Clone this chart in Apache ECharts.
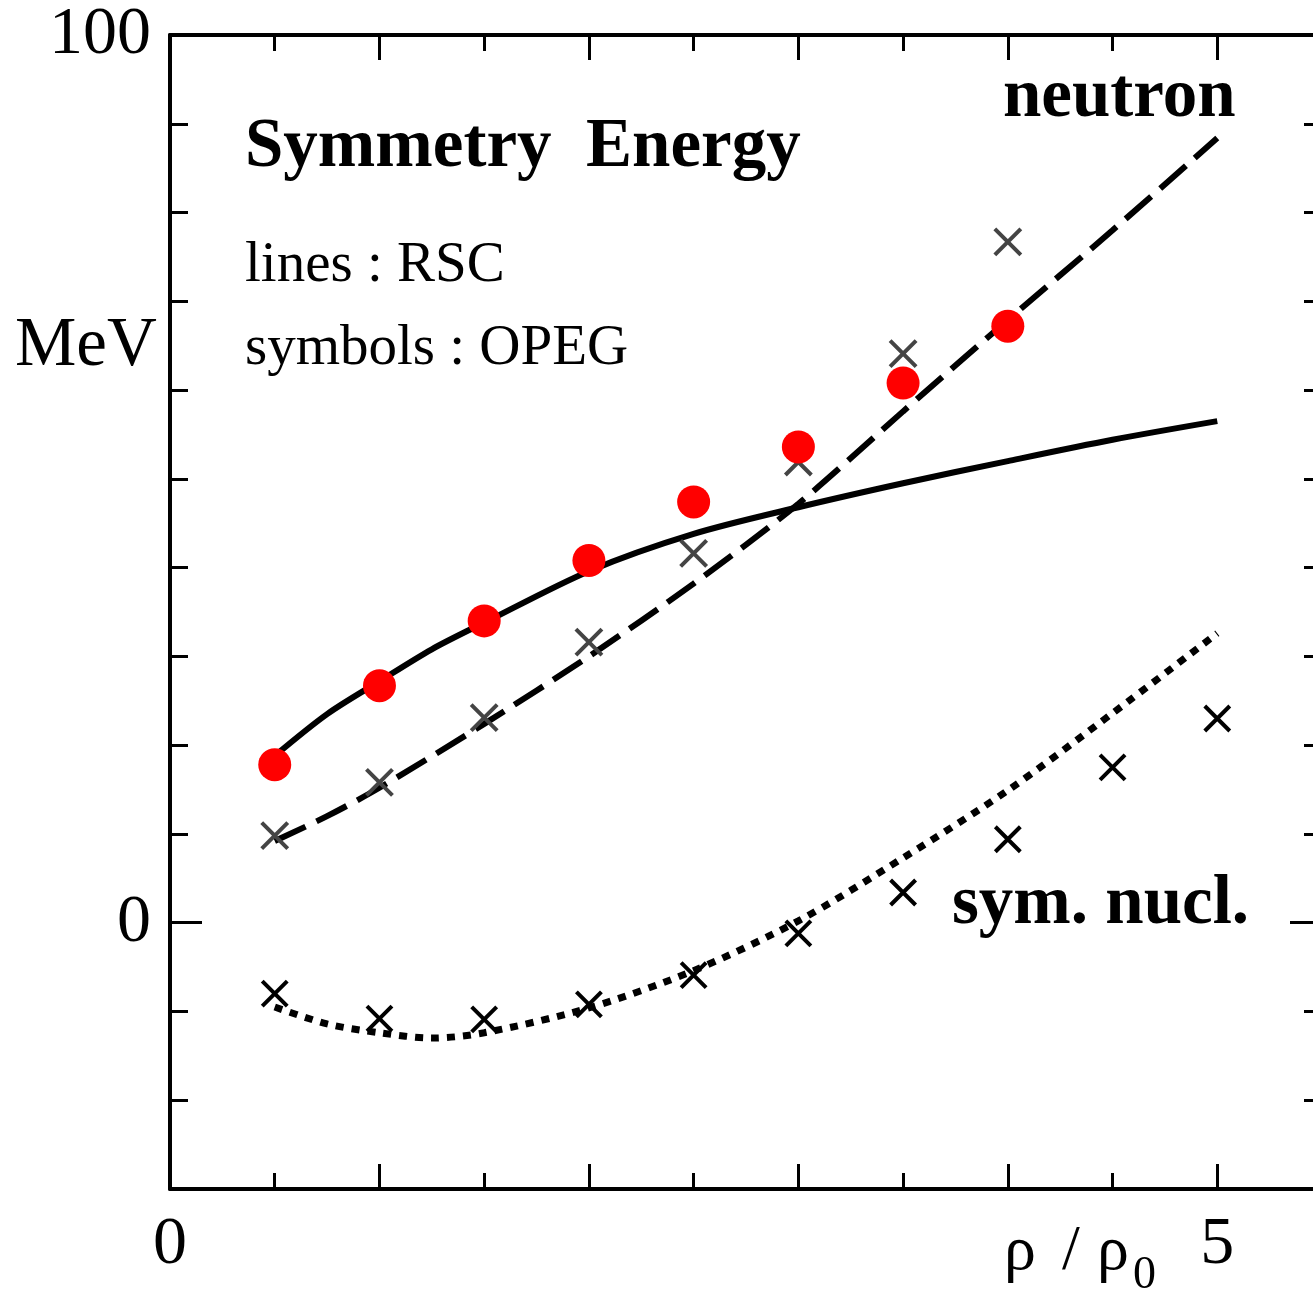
<!DOCTYPE html>
<html>
<head>
<meta charset="utf-8">
<title>Symmetry Energy</title>
<script src="https://cdn.jsdelivr.net/npm/echarts@6/dist/echarts.min.js"></script>
<style>
  body { margin: 0; background: #fff; }
  #main { width: 1313px; height: 1292px; }
</style>
</head>
<body>
<div id="main"></div>
<script>
// densities rho/rho0
var rhoPts = [0.5, 1.0, 1.5, 2.0, 2.5, 3.0, 3.5, 4.0];
var rhoNucl = [0.5, 1.0, 1.5, 2.0, 2.5, 3.0, 3.5, 4.0, 4.5, 5.0];

// OPEG symbols
var neutronOPEG = [17.8, 26.7, 34.0, 40.8, 47.4, 53.6, 60.8, 67.2];   // red dots
var symEnergyOPEG = [9.8, 15.8, 23.1, 31.6, 41.6, 51.9, 64.1, 76.7];  // grey crosses
var nuclOPEG = [-8.0, -10.8, -10.9, -9.2, -5.9, -1.2, 3.4, 9.4, 17.5, 23.0]; // black crosses

// RSC lines
var neutronRhoRSC = [0.5, 0.75, 1.0, 1.25, 1.5, 2.0, 2.5, 3.0, 3.5, 4.0, 4.5, 5.0];
var neutronRSC = [18.8, 23.5, 27.2, 30.8, 33.8, 39.6, 43.8, 46.8, 49.5, 52.0, 54.4, 56.5];
var symRhoRSC = [0.5, 0.75, 1.0, 1.5, 2.0, 2.5, 3.0, 3.5, 4.0, 4.5, 5.0];
var symEnergyRSC = [9.2, 12.0, 15.2, 22.4, 30.0, 38.2, 47.2, 57.6, 67.9, 78.0, 88.4];
var nuclRhoRSC = [0.5, 0.75, 1.0, 1.25, 1.5, 2.0, 2.5, 3.0, 3.5, 4.0, 4.5, 5.0];
var nuclRSC = [-9.5, -11.4, -12.4, -13.0, -12.4, -9.6, -5.4, 0.2, 7.3, 14.9, 23.6, 32.6];

var xLabels = [0, 5];
var yLabels = [0, 100];

function pairs(xs, ys) {
  var out = [];
  for (var i = 0; i < xs.length; i++) out.push([xs[i], ys[i]]);
  return out;
}

var serif = '"Liberation Serif", "Times New Roman", serif';
var crossPath = 'path://M0,0L10,10M10,0L0,10';

var myChart = echarts.init(document.getElementById('main'));

function xAx(pos, len, custom, showLine, showLabel) {
  return {
    type: 'value', position: pos, min: 0, max: 5.5, interval: 0.5,
    axisLine: { show: showLine, onZero: false, lineStyle: { color: '#000', width: 4 } },
    axisTick: { show: true, inside: true, length: len, customValues: custom, lineStyle: { color: '#000', width: 3 } },
    axisLabel: {
      show: showLabel, margin: 22, color: '#000', fontSize: 68, fontFamily: serif,
      formatter: function (v) { return xLabels.indexOf(v) >= 0 ? String(v) : ''; }
    },
    splitLine: { show: false }
  };
}
function yAx(pos, len, custom, showLine, showLabel) {
  return {
    type: 'value', position: pos, min: -30, max: 100, interval: 10,
    axisLine: { show: showLine, onZero: false, lineStyle: { color: '#000', width: 4 } },
    axisTick: { show: true, inside: true, length: len, customValues: custom, lineStyle: { color: '#000', width: 3 } },
    axisLabel: {
      show: showLabel, margin: 19, color: '#000', fontSize: 68, fontFamily: serif,
      formatter: function (v) { return yLabels.indexOf(v) >= 0 ? String(v) : ''; }
    },
    splitLine: { show: false }
  };
}

function txt(x, y, s, font) {
  return {
    type: 'text', x: x, y: y, z: 100,
    style: { text: s, font: font, fill: '#000', align: 'left', verticalAlign: 'middle' }
  };
}

var option = {
  backgroundColor: '#fff',
  animation: false,
  // right edge (rho = 5.5) sits just outside the canvas
  grid: { left: 170, top: 35, right: -9, bottom: 103, containLabel: false, outerBoundsMode: 'none' },
  xAxis: [
    xAx('bottom', 16, undefined, true, true),
    xAx('bottom', 25, [1, 2, 3, 4, 5], false, false),
    xAx('top', 16, undefined, true, false),
    xAx('top', 25, [1, 2, 3, 4, 5], false, false)
  ],
  yAxis: [
    yAx('left', 18, undefined, true, true),
    yAx('left', 32, [0, 100], false, false),
    yAx('right', 18, undefined, true, false),
    yAx('right', 32, [0, 100], false, false)
  ],
  graphic: [
    txt(245, 148, 'Symmetry  Energy', 'bold 69px ' + serif),
    txt(245, 266, 'lines : RSC', '57px ' + serif),
    txt(245, 349, 'symbols : OPEG', '57px ' + serif),
    txt(15, 347, 'MeV', '69px ' + serif),
    txt(1003, 98, 'neutron', 'bold 69px ' + serif),
    txt(952, 905, 'sym. nucl.', 'bold 69px ' + serif),
    // rho / rho0, laid out piece by piece
    txt(1004, 1252, 'ρ', '64px ' + serif),
    txt(1062, 1252, '/', '64px ' + serif),
    txt(1097, 1252, 'ρ', '64px ' + serif),
    txt(1133, 1276, '0', '46px ' + serif)
  ],
  series: [
    {
      name: 'neutron RSC', type: 'line', smooth: 0.3, showSymbol: false, z: 2,
      data: pairs(neutronRhoRSC, neutronRSC),
      lineStyle: { color: '#000', width: 6 }
    },
    {
      name: 'symmetry RSC', type: 'line', smooth: 0.3, showSymbol: false, z: 2,
      data: pairs(symRhoRSC, symEnergyRSC),
      lineStyle: { color: '#000', width: 6, type: [34, 12] }
    },
    {
      name: 'nuclear RSC', type: 'line', smooth: 0.3, showSymbol: false, z: 2,
      data: pairs(nuclRhoRSC, nuclRSC),
      lineStyle: { color: '#000', width: 7, type: [8, 8] }
    },
    {
      name: 'symmetry OPEG', type: 'scatter', symbol: crossPath, symbolSize: 26, z: 3,
      data: pairs(rhoPts, symEnergyOPEG),
      itemStyle: { color: 'rgba(0,0,0,0)', borderColor: '#444', borderWidth: 4, opacity: 1 }
    },
    {
      name: 'nuclear OPEG', type: 'scatter', symbol: crossPath, symbolSize: 25, z: 3,
      data: pairs(rhoNucl, nuclOPEG),
      itemStyle: { color: 'rgba(0,0,0,0)', borderColor: '#000', borderWidth: 4, opacity: 1 }
    },
    {
      name: 'neutron OPEG', type: 'scatter', symbol: 'circle', symbolSize: 33, z: 4,
      data: pairs(rhoPts, neutronOPEG),
      itemStyle: { color: '#ff0000', opacity: 1 }
    }
  ]
};

myChart.setOption(option);
window.addEventListener('resize', function () { myChart.resize(); });
</script>
</body>
</html>
